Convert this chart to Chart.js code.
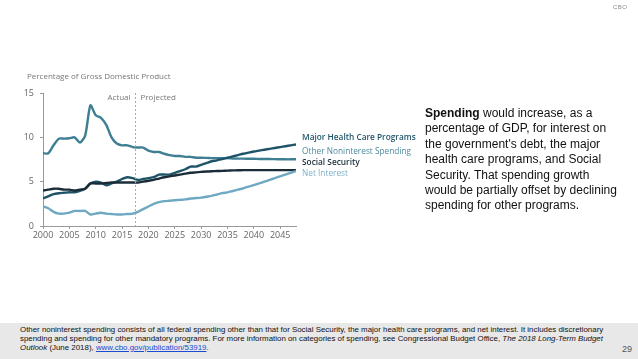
<!DOCTYPE html>
<html>
<head>
<meta charset="utf-8">
<script src="https://cdn.jsdelivr.net/npm/chart.js@4.4.0/dist/chart.umd.min.js"></script>
<style>
  html, body { margin: 0; padding: 0; background: #fff; }
  #wrap { position: relative; width: 638px; height: 359px; overflow: hidden; font-family: "Liberation Sans", Arial, sans-serif; }
  #chart { position: absolute; left: 0; top: 0; }
  .abs { position: absolute; white-space: nowrap; }
  #cbo { left: 613px; top: 4px; font-size: 6px; color: #888; letter-spacing: 0.5px; }
  #ytitle { left: 27px; top: 70px; font-family: "Open Sans", sans-serif; font-size: 8px; color: #777; }
  .slab { left: 302px; font-family: "Open Sans", sans-serif; font-size: 8.3px; font-weight: 600; }
  #side { left: 425px; top: 106px; font-size: 12px; line-height: 15.4px; color: #111; }
  #foot { left: 0; top: 323px; width: 638px; height: 36px; background: #e8e8e8; }
  #foottxt { left: 20px; top: 326px; font-size: 7.9px; line-height: 8.8px; color: #111; }
  #foottxt a { color: #1a4bd0; }
  #page { left: 622px; top: 344px; font-size: 9px; color: #555; }
</style>
</head>
<body>
<div id="wrap">
  <canvas id="chart" width="638" height="359"></canvas>
  <div class="abs" id="cbo">CBO</div>
  <div class="abs" id="ytitle">Percentage of Gross Domestic Product</div>
  <div class="abs slab" style="top:131px;color:#1f5468">Major Health Care Programs</div>
  <div class="abs slab" style="top:145px;color:#4d8a9e;font-weight:400">Other Noninterest Spending</div>
  <div class="abs slab" style="top:156px;color:#1c2f3b">Social Security</div>
  <div class="abs slab" style="top:167px;color:#7db1c9;font-weight:400">Net Interest</div>
  <div class="abs" id="side"><b>Spending</b> would increase, as a<br>percentage of GDP, for interest on<br>the government's debt, the major<br>health care programs, and Social<br>Security. That spending growth<br>would be partially offset by declining<br>spending for other programs.</div>
  <div class="abs" id="foot"></div>
  <div class="abs" id="foottxt">Other noninterest spending consists of all federal spending other than that for Social Security, the major health care programs, and net interest. It includes discretionary<br>spending and spending for other mandatory programs. For more information on categories of spending, see Congressional Budget Office, <i>The 2018 Long-Term Budget</i><br><i>Outlook</i> (June 2018), <a href="#">www.cbo.gov/publication/53919</a>.</div>
  <div class="abs" id="page">29</div>
</div>
<script>
const years = [];
for (let y = 2000; y <= 2048; y++) years.push(y);

const otherNoninterest = [8.2, 8.2, 9.1, 9.85, 9.85, 9.9, 10.0, 9.4, 10.2, 13.6,
  12.5, 12.2, 11.4, 10.0, 9.3, 9.1, 9.1, 8.9, 8.85, 8.85,
  8.5, 8.35, 8.35, 8.15, 8.0, 7.9, 7.9, 7.8, 7.8, 7.7,
  7.7, 7.68, 7.66, 7.65, 7.65, 7.65, 7.62, 7.6, 7.6, 7.58,
  7.58, 7.56, 7.55, 7.55, 7.54, 7.53, 7.52, 7.52, 7.52];

const majorHealth = [3.1, 3.35, 3.6, 3.7, 3.75, 3.8, 3.8, 3.95, 4.2, 4.8,
  5.0, 4.9, 4.6, 4.8, 5.0, 5.3, 5.5, 5.4, 5.2, 5.3,
  5.4, 5.5, 5.8, 5.8, 5.8, 6.0, 6.2, 6.4, 6.7, 6.7,
  6.9, 7.1, 7.3, 7.4, 7.55, 7.7, 7.85, 8.0, 8.15, 8.28,
  8.4, 8.5, 8.6, 8.7, 8.8, 8.9, 9.0, 9.1, 9.2];

const socialSecurity = [4.0, 4.1, 4.2, 4.2, 4.1, 4.1, 4.0, 4.1, 4.2, 4.8,
  4.8, 4.8, 4.85, 4.9, 4.9, 4.9, 4.9, 4.9, 4.9, 5.0,
  5.1, 5.2, 5.35, 5.5, 5.6, 5.7, 5.8, 5.9, 6.0, 6.05,
  6.1, 6.15, 6.18, 6.2, 6.22, 6.25, 6.27, 6.28, 6.3, 6.3,
  6.3, 6.3, 6.3, 6.3, 6.3, 6.3, 6.3, 6.3, 6.3];

const netInterest = [2.2, 2.0, 1.6, 1.4, 1.4, 1.5, 1.7, 1.7, 1.7, 1.3,
  1.4, 1.5, 1.4, 1.35, 1.3, 1.3, 1.35, 1.4, 1.6, 1.9,
  2.2, 2.5, 2.7, 2.8, 2.85, 2.9, 2.95, 3.0, 3.1, 3.15,
  3.2, 3.3, 3.4, 3.55, 3.7, 3.8, 3.95, 4.1, 4.25, 4.45,
  4.6, 4.8, 5.0, 5.2, 5.4, 5.6, 5.8, 6.0, 6.2];

const yTicks = [0, 5, 10, 15];
const xTicks = [2000, 2005, 2010, 2015, 2020, 2025, 2030, 2035, 2040, 2045];
const splitYear = 2017.5;

const toPoints = arr => arr.map((v, i) => ({ x: years[i], y: v }));

// dotted divider between actual and projected years
const splitLine = {
    id: 'splitLine',
    afterDatasetsDraw(chart) {
        const { ctx, chartArea, scales } = chart;
        const x = Math.round(scales.x.getPixelForValue(splitYear)) + 0.5;
        ctx.save();
        ctx.strokeStyle = '#aaa';
        ctx.lineWidth = 1;
        ctx.setLineDash([2, 2]);
        ctx.beginPath();
        ctx.moveTo(x, chartArea.top);
        ctx.lineTo(x, chartArea.bottom);
        ctx.stroke();
        ctx.setLineDash([]);
        ctx.fillStyle = '#777';
        ctx.font = '8px "Open Sans"';
        ctx.textBaseline = 'middle';
        ctx.textAlign = 'right';
        ctx.fillText('Actual', x - 5, chartArea.top + 5);
        ctx.textAlign = 'left';
        ctx.fillText('Projected', x + 5, chartArea.top + 5);
        ctx.restore();
    }
};

const line = (label, data, color) => ({
    label: label,
    data: toPoints(data),
    borderColor: color,
    borderWidth: 2.4,
    pointRadius: 0,
    tension: 0.25,
    fill: false,
});

new Chart(document.getElementById('chart'), {
    type: 'line',
    data: {
        datasets: [
            line('Net Interest', netInterest, '#6fa8c2'),
            line('Social Security', socialSecurity, '#1a2c38'),
            line('Major Health Care Programs', majorHealth, '#1f5468'),
            line('Other Noninterest Spending', otherNoninterest, '#3f7f93'),
        ],
    },
    options: {
        responsive: false,
        animation: false,
        layout: { padding: { left: 0, top: 93, right: 342, bottom: 113 } },
        plugins: {
            legend: { display: false },
            tooltip: { enabled: false },
        },
        scales: {
            x: {
                type: 'linear',
                min: 2000,
                max: 2048,
                afterBuildTicks: scale => { scale.ticks = xTicks.map(v => ({ value: v })); },
                afterFit: scale => { scale.height = 20; },
                ticks: {
                    callback: v => String(v),
                    color: '#666',
                    font: { family: 'Open Sans', size: 9 },
                    padding: 1,
                    maxRotation: 0,
                },
                grid: { drawOnChartArea: false, tickLength: 3, color: '#999' },
                border: { color: '#999' },
            },
            y: {
                min: 0,
                max: 15,
                afterBuildTicks: scale => { scale.ticks = yTicks.map(v => ({ value: v })); },
                afterFit: scale => { scale.width = 43; },
                ticks: {
                    color: '#666',
                    font: { family: 'Open Sans', size: 9 },
                    padding: 6,
                },
                grid: { drawOnChartArea: false, tickLength: 3, color: '#999' },
                border: { color: '#999' },
            },
        },
    },
    plugins: [splitLine],
});
</script>
</body>
</html>
